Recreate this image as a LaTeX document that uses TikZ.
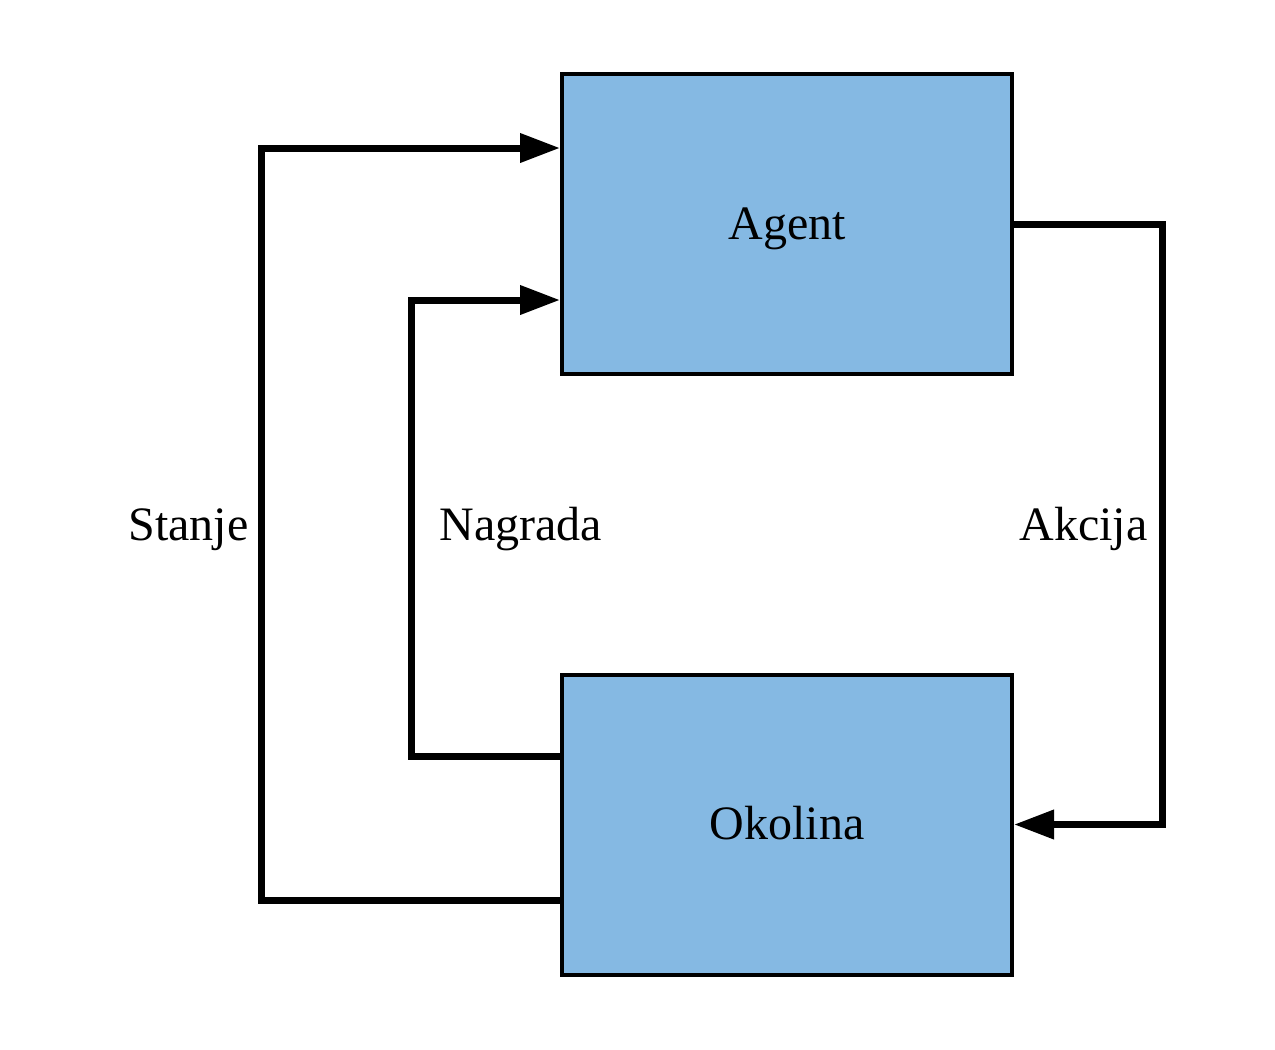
\documentclass[tikz,border=0pt]{standalone}
\usepackage{fontspec}
\setmainfont{Liberation Serif}
\usepackage{tikz}
\usetikzlibrary{calc,positioning,arrows.meta}

\definecolor{boxblue}{RGB}{133,185,227}

\begin{document}
\begin{tikzpicture}[x=0.5pt,y=-0.5pt,
    block/.style={draw, line width=2pt, fill=boxblue, inner sep=0pt,
      minimum width=225pt, minimum height=150pt,
      text height=20pt, text depth=4.6pt,
      font=\fontsize{24}{28}\selectfont},
    flow/.style={line width=3.5pt, line join=miter, -{Triangle[length=20pt,width=14pt]}},
    lbl/.style={inner sep=0pt, text height=20pt, text depth=4.6pt,
      font=\fontsize{24}{28}\selectfont}]
  \useasboundingbox (0,0) rectangle (1275,1050);

  %% Boxes
  \node[block] (agent)   at (787,224)   {Agent};
  \node[block] (okolina) at (787,824.5) {Okolina};

  %% Ports on the boxes
  \coordinate (sIn)  at ($(agent.north west)!0.25!(agent.south west)$);
  \coordinate (nIn)  at ($(agent.north west)!0.75!(agent.south west)$);
  \coordinate (sOut) at ($(okolina.south west)!0.25!(okolina.north west)$);
  \coordinate (nOut) at ($(okolina.north west)!0.275!(okolina.south west)$);

  %% Columns of the loops
  \coordinate (sx) at (261,525);
  \coordinate (nx) at (411,525);
  \coordinate (ax) at (1162,525);

  %% Loops
  \draw[flow] (sOut) -| (sx) |- (sIn);
  \draw[flow] (nOut) -| (nx) |- (nIn);
  \draw[flow] (agent.east) -| (ax) |- (okolina.east);

  %% Labels
  \node[lbl, left=6pt of sx]     (stanje)  {Stanje};
  \node[lbl, right=14pt of nx]   (nagrada) {Nagrada};
  \node[lbl, left=7pt of ax]     (akcija)  {Akcija};
\end{tikzpicture}
\end{document}
